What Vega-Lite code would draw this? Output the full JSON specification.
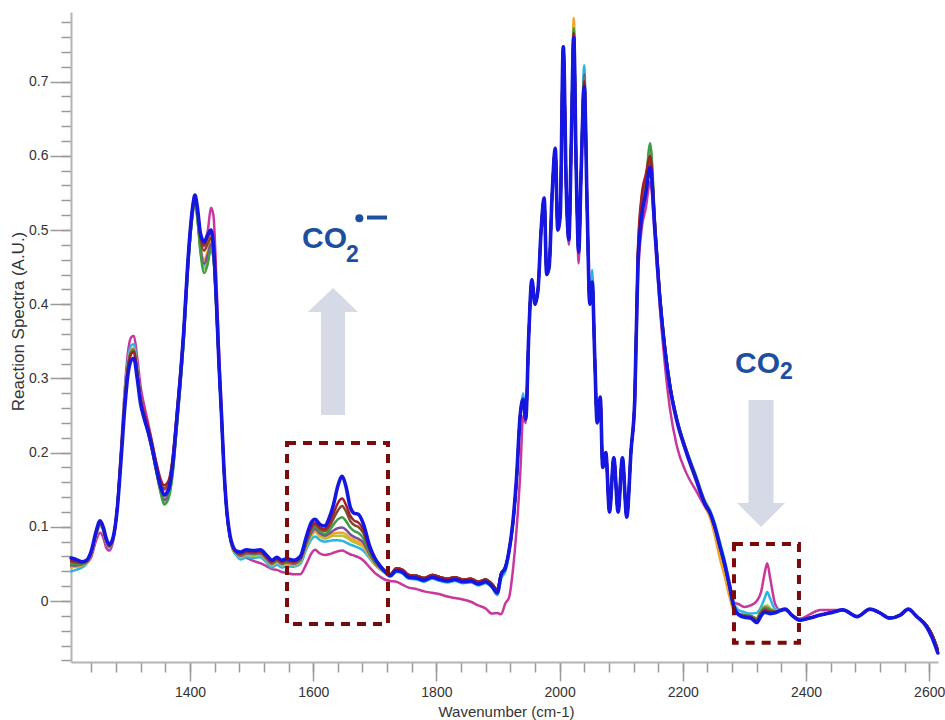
{
"$schema":"https://vega.github.io/schema/vega-lite/v6.json",
"width":867,"height":650,
"autosize":{"type":"none"},
"padding":{"left":71,"top":12,"right":7,"bottom":58},
"background":"#ffffff",
"config":{"view":{"stroke":null},"font":"Liberation Sans"},
"datasets":{
"spectra":[
{"w":1207,"m":0.047,"c":0.040,"yg":0.046,"o":0.045,"p":0.048,"g":0.050,"br":0.053,"r":0.055,"b":0.058},
{"w":1215,"m":0.048,"c":0.042,"yg":0.047,"o":0.046,"p":0.048,"g":0.050,"br":0.052,"r":0.054,"b":0.056},
{"w":1224,"m":0.049,"c":0.045,"yg":0.048,"o":0.048,"p":0.049,"g":0.050,"br":0.051,"r":0.052,"b":0.053},
{"w":1232,"m":0.051,"c":0.050,"yg":0.051,"o":0.052,"p":0.052,"g":0.053,"br":0.054,"r":0.054,"b":0.055},
{"w":1240,"m":0.060,"c":0.064,"yg":0.064,"o":0.065,"p":0.065,"g":0.066,"br":0.066,"r":0.067,"b":0.068},
{"w":1247,"m":0.080,"c":0.086,"yg":0.087,"o":0.087,"p":0.088,"g":0.088,"br":0.089,"r":0.090,"b":0.092},
{"w":1254,"m":0.092,"c":0.101,"yg":0.103,"o":0.103,"p":0.104,"g":0.104,"br":0.105,"r":0.106,"b":0.108},
{"w":1259,"m":0.086,"c":0.095,"yg":0.096,"o":0.096,"p":0.097,"g":0.097,"br":0.098,"r":0.099,"b":0.100},
{"w":1264,"m":0.072,"c":0.079,"yg":0.080,"o":0.080,"p":0.081,"g":0.081,"br":0.082,"r":0.083,"b":0.084},
{"w":1269,"m":0.068,"c":0.072,"yg":0.073,"o":0.073,"p":0.073,"g":0.074,"br":0.074,"r":0.075,"b":0.076},
{"w":1275,"m":0.080,"c":0.083,"yg":0.083,"o":0.083,"p":0.083,"g":0.084,"br":0.084,"r":0.085,"b":0.085},
{"w":1282,"m":0.128,"c":0.128,"yg":0.127,"o":0.127,"p":0.127,"g":0.127,"br":0.127,"r":0.127,"b":0.125},
{"w":1288,"m":0.205,"c":0.200,"yg":0.197,"o":0.197,"p":0.196,"g":0.196,"br":0.195,"r":0.195,"b":0.190},
{"w":1294,"m":0.285,"c":0.277,"yg":0.272,"o":0.272,"p":0.270,"g":0.270,"br":0.268,"r":0.268,"b":0.260},
{"w":1300,"m":0.340,"c":0.330,"yg":0.323,"o":0.323,"p":0.321,"g":0.320,"br":0.318,"r":0.318,"b":0.310},
{"w":1305,"m":0.356,"c":0.345,"yg":0.339,"o":0.339,"p":0.337,"g":0.336,"br":0.334,"r":0.334,"b":0.325},
{"w":1309,"m":0.357,"c":0.346,"yg":0.341,"o":0.341,"p":0.339,"g":0.338,"br":0.336,"r":0.336,"b":0.327},
{"w":1314,"m":0.330,"c":0.317,"yg":0.312,"o":0.313,"p":0.311,"g":0.310,"br":0.309,"r":0.310,"b":0.302},
{"w":1320,"m":0.288,"c":0.274,"yg":0.270,"o":0.272,"p":0.270,"g":0.270,"br":0.270,"r":0.272,"b":0.265},
{"w":1326,"m":0.262,"c":0.249,"yg":0.246,"o":0.248,"p":0.246,"g":0.247,"br":0.249,"r":0.252,"b":0.245},
{"w":1332,"m":0.240,"c":0.228,"yg":0.226,"o":0.228,"p":0.227,"g":0.228,"br":0.231,"r":0.235,"b":0.228},
{"w":1338,"m":0.216,"c":0.206,"yg":0.204,"o":0.206,"p":0.205,"g":0.206,"br":0.211,"r":0.215,"b":0.208},
{"w":1345,"m":0.185,"c":0.178,"yg":0.175,"o":0.178,"p":0.176,"g":0.177,"br":0.184,"r":0.188,"b":0.180},
{"w":1352,"m":0.160,"c":0.152,"yg":0.147,"o":0.152,"p":0.150,"g":0.148,"br":0.160,"r":0.165,"b":0.155},
{"w":1358,"m":0.150,"c":0.138,"yg":0.133,"o":0.140,"p":0.136,"g":0.130,"br":0.152,"r":0.156,"b":0.143},
{"w":1365,"m":0.156,"c":0.145,"yg":0.140,"o":0.147,"p":0.143,"g":0.138,"br":0.158,"r":0.162,"b":0.150},
{"w":1372,"m":0.189,"c":0.179,"yg":0.175,"o":0.181,"p":0.177,"g":0.172,"br":0.191,"r":0.195,"b":0.185},
{"w":1378,"m":0.243,"c":0.234,"yg":0.230,"o":0.236,"p":0.232,"g":0.228,"br":0.245,"r":0.248,"b":0.240},
{"w":1384,"m":0.300,"c":0.292,"yg":0.289,"o":0.294,"p":0.290,"g":0.287,"br":0.302,"r":0.305,"b":0.298},
{"w":1390,"m":0.366,"c":0.358,"yg":0.355,"o":0.359,"p":0.356,"g":0.353,"br":0.367,"r":0.370,"b":0.365},
{"w":1396,"m":0.450,"c":0.443,"yg":0.440,"o":0.444,"p":0.441,"g":0.438,"br":0.449,"r":0.452,"b":0.450},
{"w":1401,"m":0.505,"c":0.498,"yg":0.496,"o":0.499,"p":0.497,"g":0.494,"br":0.503,"r":0.506,"b":0.505},
{"w":1405,"m":0.535,"c":0.529,"yg":0.527,"o":0.530,"p":0.528,"g":0.526,"br":0.533,"r":0.535,"b":0.535},
{"w":1408,"m":0.545,"c":0.541,"yg":0.539,"o":0.542,"p":0.540,"g":0.538,"br":0.544,"r":0.546,"b":0.547},
{"w":1412,"m":0.528,"c":0.519,"yg":0.516,"o":0.521,"p":0.518,"g":0.515,"br":0.525,"r":0.528,"b":0.530},
{"w":1417,"m":0.492,"c":0.476,"yg":0.472,"o":0.480,"p":0.476,"g":0.470,"br":0.487,"r":0.492,"b":0.495},
{"w":1423,"m":0.478,"c":0.452,"yg":0.448,"o":0.460,"p":0.455,"g":0.442,"br":0.472,"r":0.480,"b":0.484},
{"w":1429,"m":0.500,"c":0.464,"yg":0.460,"o":0.472,"p":0.467,"g":0.455,"br":0.482,"r":0.490,"b":0.494},
{"w":1434,"m":0.530,"c":0.480,"yg":0.477,"o":0.485,"p":0.481,"g":0.475,"br":0.490,"r":0.497,"b":0.500},
{"w":1438,"m":0.520,"c":0.466,"yg":0.463,"o":0.469,"p":0.466,"g":0.462,"br":0.473,"r":0.478,"b":0.480},
{"w":1443,"m":0.430,"c":0.392,"yg":0.390,"o":0.394,"p":0.392,"g":0.390,"br":0.397,"r":0.400,"b":0.400},
{"w":1447,"m":0.340,"c":0.316,"yg":0.314,"o":0.317,"p":0.316,"g":0.314,"br":0.319,"r":0.321,"b":0.320},
{"w":1451,"m":0.262,"c":0.250,"yg":0.249,"o":0.251,"p":0.250,"g":0.249,"br":0.252,"r":0.253,"b":0.253},
{"w":1455,"m":0.182,"c":0.178,"yg":0.177,"o":0.178,"p":0.178,"g":0.177,"br":0.179,"r":0.180,"b":0.180},
{"w":1460,"m":0.117,"c":0.116,"yg":0.116,"o":0.117,"p":0.117,"g":0.117,"br":0.118,"r":0.119,"b":0.119},
{"w":1465,"m":0.085,"c":0.085,"yg":0.085,"o":0.086,"p":0.086,"g":0.086,"br":0.087,"r":0.087,"b":0.088},
{"w":1470,"m":0.068,"c":0.069,"yg":0.070,"o":0.070,"p":0.071,"g":0.071,"br":0.072,"r":0.072,"b":0.073},
{"w":1476,"m":0.062,"c":0.061,"yg":0.063,"o":0.063,"p":0.064,"g":0.064,"br":0.065,"r":0.066,"b":0.067},
{"w":1482,"m":0.060,"c":0.056,"yg":0.059,"o":0.060,"p":0.061,"g":0.062,"br":0.063,"r":0.064,"b":0.066},
{"w":1492,"m":0.058,"c":0.059,"yg":0.062,"o":0.063,"p":0.064,"g":0.065,"br":0.066,"r":0.067,"b":0.069},
{"w":1503,"m":0.054,"c":0.058,"yg":0.061,"o":0.062,"p":0.063,"g":0.064,"br":0.065,"r":0.066,"b":0.068},
{"w":1514,"m":0.051,"c":0.059,"yg":0.062,"o":0.063,"p":0.064,"g":0.065,"br":0.066,"r":0.067,"b":0.069},
{"w":1524,"m":0.047,"c":0.052,"yg":0.055,"o":0.056,"p":0.057,"g":0.058,"br":0.059,"r":0.060,"b":0.062},
{"w":1533,"m":0.043,"c":0.045,"yg":0.048,"o":0.049,"p":0.050,"g":0.051,"br":0.052,"r":0.053,"b":0.055},
{"w":1541,"m":0.042,"c":0.049,"yg":0.052,"o":0.053,"p":0.054,"g":0.055,"br":0.056,"r":0.057,"b":0.059},
{"w":1549,"m":0.039,"c":0.045,"yg":0.048,"o":0.049,"p":0.050,"g":0.051,"br":0.052,"r":0.053,"b":0.055},
{"w":1557,"m":0.038,"c":0.047,"yg":0.050,"o":0.051,"p":0.052,"g":0.053,"br":0.054,"r":0.055,"b":0.057},
{"w":1568,"m":0.036,"c":0.046,"yg":0.048,"o":0.049,"p":0.050,"g":0.051,"br":0.052,"r":0.053,"b":0.055},
{"w":1579,"m":0.036,"c":0.050,"yg":0.053,"o":0.054,"p":0.055,"g":0.056,"br":0.057,"r":0.058,"b":0.060},
{"w":1589,"m":0.050,"c":0.070,"yg":0.074,"o":0.075,"p":0.077,"g":0.079,"br":0.081,"r":0.083,"b":0.087},
{"w":1597,"m":0.064,"c":0.083,"yg":0.088,"o":0.090,"p":0.092,"g":0.095,"br":0.098,"r":0.100,"b":0.106},
{"w":1603,"m":0.069,"c":0.087,"yg":0.093,"o":0.095,"p":0.097,"g":0.100,"br":0.103,"r":0.105,"b":0.110},
{"w":1611,"m":0.064,"c":0.082,"yg":0.087,"o":0.089,"p":0.091,"g":0.094,"br":0.097,"r":0.099,"b":0.103},
{"w":1619,"m":0.062,"c":0.080,"yg":0.084,"o":0.086,"p":0.088,"g":0.090,"br":0.094,"r":0.097,"b":0.101},
{"w":1626,"m":0.063,"c":0.081,"yg":0.086,"o":0.088,"p":0.091,"g":0.095,"br":0.100,"r":0.105,"b":0.112},
{"w":1633,"m":0.065,"c":0.082,"yg":0.088,"o":0.091,"p":0.095,"g":0.103,"br":0.111,"r":0.118,"b":0.130},
{"w":1640,"m":0.067,"c":0.082,"yg":0.088,"o":0.092,"p":0.098,"g":0.110,"br":0.122,"r":0.132,"b":0.155},
{"w":1647,"m":0.068,"c":0.081,"yg":0.088,"o":0.092,"p":0.099,"g":0.113,"br":0.128,"r":0.138,"b":0.168},
{"w":1653,"m":0.066,"c":0.079,"yg":0.086,"o":0.090,"p":0.096,"g":0.108,"br":0.121,"r":0.130,"b":0.155},
{"w":1660,"m":0.063,"c":0.076,"yg":0.082,"o":0.085,"p":0.090,"g":0.099,"br":0.108,"r":0.115,"b":0.127},
{"w":1667,"m":0.061,"c":0.074,"yg":0.079,"o":0.082,"p":0.086,"g":0.094,"br":0.102,"r":0.108,"b":0.118},
{"w":1673,"m":0.059,"c":0.072,"yg":0.077,"o":0.080,"p":0.084,"g":0.092,"br":0.100,"r":0.106,"b":0.117},
{"w":1681,"m":0.055,"c":0.068,"yg":0.073,"o":0.075,"p":0.079,"g":0.085,"br":0.092,"r":0.097,"b":0.105},
{"w":1692,"m":0.045,"c":0.057,"yg":0.059,"o":0.060,"p":0.062,"g":0.064,"br":0.068,"r":0.070,"b":0.073},
{"w":1700,"m":0.038,"c":0.049,"yg":0.050,"o":0.051,"p":0.052,"g":0.053,"br":0.055,"r":0.056,"b":0.058},
{"w":1708,"m":0.033,"c":0.043,"yg":0.044,"o":0.045,"p":0.045,"g":0.046,"br":0.047,"r":0.048,"b":0.048},
{"w":1716,"m":0.029,"c":0.038,"yg":0.039,"o":0.039,"p":0.040,"g":0.040,"br":0.041,"r":0.041,"b":0.040},
{"w":1725,"m":0.027,"c":0.033,"yg":0.034,"o":0.035,"p":0.035,"g":0.035,"br":0.036,"r":0.036,"b":0.034},
{"w":1735,"m":0.026,"c":0.039,"yg":0.044,"o":0.044,"p":0.044,"g":0.044,"br":0.044,"r":0.044,"b":0.041},
{"w":1745,"m":0.022,"c":0.037,"yg":0.042,"o":0.042,"p":0.042,"g":0.042,"br":0.042,"r":0.042,"b":0.039},
{"w":1755,"m":0.018,"c":0.030,"yg":0.035,"o":0.035,"p":0.035,"g":0.035,"br":0.035,"r":0.035,"b":0.032},
{"w":1768,"m":0.016,"c":0.029,"yg":0.034,"o":0.034,"p":0.034,"g":0.034,"br":0.034,"r":0.034,"b":0.031},
{"w":1780,"m":0.013,"c":0.026,"yg":0.031,"o":0.031,"p":0.031,"g":0.031,"br":0.031,"r":0.031,"b":0.028},
{"w":1793,"m":0.011,"c":0.030,"yg":0.035,"o":0.035,"p":0.035,"g":0.035,"br":0.035,"r":0.035,"b":0.032},
{"w":1806,"m":0.009,"c":0.027,"yg":0.032,"o":0.032,"p":0.032,"g":0.032,"br":0.032,"r":0.032,"b":0.029},
{"w":1818,"m":0.006,"c":0.025,"yg":0.030,"o":0.030,"p":0.030,"g":0.030,"br":0.030,"r":0.030,"b":0.027},
{"w":1830,"m":0.004,"c":0.027,"yg":0.032,"o":0.032,"p":0.032,"g":0.032,"br":0.032,"r":0.032,"b":0.029},
{"w":1843,"m":0.002,"c":0.024,"yg":0.029,"o":0.029,"p":0.029,"g":0.029,"br":0.029,"r":0.029,"b":0.026},
{"w":1856,"m":-0.001,"c":0.025,"yg":0.030,"o":0.030,"p":0.030,"g":0.030,"br":0.030,"r":0.030,"b":0.027},
{"w":1868,"m":-0.006,"c":0.021,"yg":0.026,"o":0.026,"p":0.026,"g":0.026,"br":0.026,"r":0.026,"b":0.023},
{"w":1880,"m":-0.010,"c":0.024,"yg":0.029,"o":0.029,"p":0.029,"g":0.029,"br":0.029,"r":0.029,"b":0.026},
{"w":1890,"m":-0.017,"c":0.018,"yg":0.023,"o":0.023,"p":0.023,"g":0.023,"br":0.023,"r":0.023,"b":0.020},
{"w":1899,"m":-0.016,"c":0.008,"yg":0.015,"o":0.015,"p":0.015,"g":0.015,"br":0.015,"r":0.015,"b":0.011},
{"w":1905,"m":-0.018,"c":0.030,"yg":0.037,"o":0.037,"p":0.037,"g":0.037,"br":0.037,"r":0.037,"b":0.035},
{"w":1912,"m":-0.003,"c":0.040,"yg":0.046,"o":0.046,"p":0.046,"g":0.046,"br":0.046,"r":0.046,"b":0.045},
{"w":1918,"m":0.005,"c":0.064,"yg":0.068,"o":0.068,"p":0.068,"g":0.068,"br":0.068,"r":0.068,"b":0.068},
{"w":1924,"m":0.040,"c":0.100,"yg":0.103,"o":0.103,"p":0.103,"g":0.103,"br":0.103,"r":0.103,"b":0.105},
{"w":1930,"m":0.095,"c":0.160,"yg":0.162,"o":0.162,"p":0.162,"g":0.162,"br":0.162,"r":0.162,"b":0.165},
{"w":1936,"m":0.170,"c":0.250,"yg":0.250,"o":0.250,"p":0.250,"g":0.250,"br":0.250,"r":0.250,"b":0.250},
{"w":1941,"m":0.250,"c":0.280,"yg":0.272,"o":0.272,"p":0.272,"g":0.272,"br":0.272,"r":0.272,"b":0.272},
{"w":1945,"m":0.240,"c":0.245,"yg":0.245,"o":0.245,"p":0.245,"g":0.245,"br":0.245,"r":0.245,"b":0.245},
{"w":1950,"m":0.360,"c":0.360,"yg":0.360,"o":0.360,"p":0.360,"g":0.360,"br":0.360,"r":0.360,"b":0.360},
{"w":1955,"m":0.433,"c":0.433,"yg":0.433,"o":0.433,"p":0.433,"g":0.433,"br":0.433,"r":0.433,"b":0.433},
{"w":1960,"m":0.400,"c":0.400,"yg":0.400,"o":0.400,"p":0.400,"g":0.400,"br":0.400,"r":0.400,"b":0.400},
{"w":1965,"m":0.420,"c":0.420,"yg":0.420,"o":0.420,"p":0.420,"g":0.420,"br":0.420,"r":0.420,"b":0.420},
{"w":1970,"m":0.500,"c":0.500,"yg":0.500,"o":0.500,"p":0.500,"g":0.500,"br":0.500,"r":0.500,"b":0.500},
{"w":1975,"m":0.543,"c":0.543,"yg":0.543,"o":0.543,"p":0.543,"g":0.543,"br":0.543,"r":0.543,"b":0.543},
{"w":1979,"m":0.440,"c":0.440,"yg":0.440,"o":0.440,"p":0.440,"g":0.440,"br":0.440,"r":0.440,"b":0.440},
{"w":1983,"m":0.450,"c":0.450,"yg":0.450,"o":0.450,"p":0.450,"g":0.450,"br":0.450,"r":0.450,"b":0.450},
{"w":1988,"m":0.550,"c":0.550,"yg":0.550,"o":0.550,"p":0.550,"g":0.550,"br":0.550,"r":0.550,"b":0.550},
{"w":1993,"m":0.610,"c":0.610,"yg":0.610,"o":0.610,"p":0.610,"g":0.610,"br":0.610,"r":0.610,"b":0.610},
{"w":1997,"m":0.500,"c":0.500,"yg":0.500,"o":0.500,"p":0.500,"g":0.500,"br":0.500,"r":0.500,"b":0.500},
{"w":2001,"m":0.520,"c":0.520,"yg":0.520,"o":0.520,"p":0.520,"g":0.520,"br":0.520,"r":0.520,"b":0.520},
{"w":2006,"m":0.747,"c":0.747,"yg":0.747,"o":0.747,"p":0.747,"g":0.747,"br":0.747,"r":0.747,"b":0.747},
{"w":2011,"m":0.550,"c":0.550,"yg":0.550,"o":0.550,"p":0.550,"g":0.550,"br":0.550,"r":0.550,"b":0.550},
{"w":2015,"m":0.480,"c":0.487,"yg":0.487,"o":0.487,"p":0.487,"g":0.487,"br":0.487,"r":0.487,"b":0.487},
{"w":2019,"m":0.620,"c":0.620,"yg":0.620,"o":0.620,"p":0.620,"g":0.620,"br":0.620,"r":0.620,"b":0.620},
{"w":2023,"m":0.760,"c":0.762,"yg":0.778,"o":0.786,"p":0.768,"g":0.772,"br":0.765,"r":0.765,"b":0.759},
{"w":2027,"m":0.580,"c":0.580,"yg":0.580,"o":0.580,"p":0.580,"g":0.580,"br":0.580,"r":0.580,"b":0.580},
{"w":2031,"m":0.455,"c":0.470,"yg":0.470,"o":0.470,"p":0.470,"g":0.470,"br":0.470,"r":0.470,"b":0.470},
{"w":2035,"m":0.580,"c":0.580,"yg":0.580,"o":0.580,"p":0.580,"g":0.580,"br":0.580,"r":0.580,"b":0.580},
{"w":2040,"m":0.695,"c":0.722,"yg":0.700,"o":0.700,"p":0.710,"g":0.705,"br":0.700,"r":0.700,"b":0.693},
{"w":2045,"m":0.520,"c":0.520,"yg":0.520,"o":0.520,"p":0.520,"g":0.520,"br":0.520,"r":0.520,"b":0.520},
{"w":2049,"m":0.400,"c":0.400,"yg":0.400,"o":0.400,"p":0.400,"g":0.400,"br":0.400,"r":0.400,"b":0.400},
{"w":2053,"m":0.430,"c":0.446,"yg":0.430,"o":0.430,"p":0.430,"g":0.430,"br":0.430,"r":0.430,"b":0.430},
{"w":2057,"m":0.330,"c":0.330,"yg":0.330,"o":0.330,"p":0.330,"g":0.330,"br":0.330,"r":0.330,"b":0.330},
{"w":2061,"m":0.240,"c":0.240,"yg":0.240,"o":0.240,"p":0.240,"g":0.240,"br":0.240,"r":0.240,"b":0.240},
{"w":2066,"m":0.275,"c":0.275,"yg":0.275,"o":0.275,"p":0.275,"g":0.275,"br":0.275,"r":0.275,"b":0.275},
{"w":2070,"m":0.180,"c":0.180,"yg":0.180,"o":0.180,"p":0.180,"g":0.180,"br":0.180,"r":0.180,"b":0.180},
{"w":2075,"m":0.200,"c":0.200,"yg":0.200,"o":0.200,"p":0.200,"g":0.200,"br":0.200,"r":0.200,"b":0.200},
{"w":2081,"m":0.120,"c":0.120,"yg":0.120,"o":0.120,"p":0.120,"g":0.120,"br":0.120,"r":0.120,"b":0.120},
{"w":2088,"m":0.193,"c":0.193,"yg":0.193,"o":0.193,"p":0.193,"g":0.193,"br":0.193,"r":0.193,"b":0.193},
{"w":2095,"m":0.120,"c":0.120,"yg":0.120,"o":0.120,"p":0.120,"g":0.120,"br":0.120,"r":0.120,"b":0.120},
{"w":2102,"m":0.193,"c":0.193,"yg":0.193,"o":0.193,"p":0.193,"g":0.193,"br":0.193,"r":0.193,"b":0.193},
{"w":2109,"m":0.113,"c":0.113,"yg":0.113,"o":0.113,"p":0.113,"g":0.113,"br":0.113,"r":0.113,"b":0.113},
{"w":2116,"m":0.203,"c":0.203,"yg":0.203,"o":0.203,"p":0.203,"g":0.203,"br":0.203,"r":0.203,"b":0.203},
{"w":2122,"m":0.260,"c":0.271,"yg":0.271,"o":0.271,"p":0.271,"g":0.271,"br":0.271,"r":0.271,"b":0.271},
{"w":2127,"m":0.430,"c":0.455,"yg":0.455,"o":0.455,"p":0.455,"g":0.460,"br":0.465,"r":0.470,"b":0.450},
{"w":2133,"m":0.500,"c":0.520,"yg":0.525,"o":0.525,"p":0.525,"g":0.530,"br":0.540,"r":0.545,"b":0.517},
{"w":2140,"m":0.530,"c":0.555,"yg":0.562,"o":0.560,"p":0.560,"g":0.565,"br":0.570,"r":0.575,"b":0.550},
{"w":2147,"m":0.565,"c":0.590,"yg":0.612,"o":0.605,"p":0.595,"g":0.617,"br":0.598,"r":0.600,"b":0.585},
{"w":2155,"m":0.488,"c":0.498,"yg":0.505,"o":0.500,"p":0.500,"g":0.510,"br":0.503,"r":0.505,"b":0.496},
{"w":2163,"m":0.393,"c":0.408,"yg":0.410,"o":0.400,"p":0.408,"g":0.412,"br":0.410,"r":0.410,"b":0.405},
{"w":2171,"m":0.318,"c":0.342,"yg":0.340,"o":0.335,"p":0.340,"g":0.343,"br":0.342,"r":0.342,"b":0.338},
{"w":2179,"m":0.260,"c":0.293,"yg":0.290,"o":0.286,"p":0.290,"g":0.293,"br":0.292,"r":0.292,"b":0.289},
{"w":2190,"m":0.210,"c":0.248,"yg":0.245,"o":0.242,"p":0.245,"g":0.247,"br":0.246,"r":0.246,"b":0.244},
{"w":2206,"m":0.172,"c":0.204,"yg":0.201,"o":0.198,"p":0.201,"g":0.203,"br":0.202,"r":0.202,"b":0.200},
{"w":2222,"m":0.148,"c":0.168,"yg":0.163,"o":0.160,"p":0.164,"g":0.166,"br":0.165,"r":0.165,"b":0.163},
{"w":2236,"m":0.127,"c":0.135,"yg":0.130,"o":0.127,"p":0.131,"g":0.133,"br":0.132,"r":0.132,"b":0.130},
{"w":2244,"m":0.116,"c":0.123,"yg":0.117,"o":0.113,"p":0.119,"g":0.120,"br":0.120,"r":0.120,"b":0.119},
{"w":2252,"m":0.098,"c":0.105,"yg":0.093,"o":0.088,"p":0.099,"g":0.098,"br":0.100,"r":0.100,"b":0.100},
{"w":2260,"m":0.074,"c":0.080,"yg":0.064,"o":0.058,"p":0.073,"g":0.072,"br":0.074,"r":0.075,"b":0.075},
{"w":2268,"m":0.050,"c":0.055,"yg":0.038,"o":0.033,"p":0.048,"g":0.047,"br":0.049,"r":0.050,"b":0.050},
{"w":2276,"m":0.022,"c":0.025,"yg":0.010,"o":0.005,"p":0.018,"g":0.017,"br":0.019,"r":0.020,"b":0.020},
{"w":2283,"m":-0.002,"c":-0.003,"yg":-0.012,"o":-0.014,"p":-0.009,"g":-0.010,"br":-0.009,"r":-0.008,"b":-0.008},
{"w":2290,"m":-0.004,"c":-0.012,"yg":-0.017,"o":-0.018,"p":-0.017,"g":-0.017,"br":-0.018,"r":-0.018,"b":-0.018},
{"w":2300,"m":-0.008,"c":-0.015,"yg":-0.019,"o":-0.020,"p":-0.019,"g":-0.019,"br":-0.020,"r":-0.021,"b":-0.022},
{"w":2310,"m":-0.006,"c":-0.017,"yg":-0.020,"o":-0.021,"p":-0.020,"g":-0.020,"br":-0.021,"r":-0.022,"b":-0.023},
{"w":2320,"m":0.000,"c":-0.016,"yg":-0.023,"o":-0.025,"p":-0.024,"g":-0.024,"br":-0.026,"r":-0.027,"b":-0.029},
{"w":2327,"m":0.012,"c":-0.008,"yg":-0.012,"o":-0.014,"p":-0.014,"g":-0.014,"br":-0.016,"r":-0.018,"b":-0.020},
{"w":2333,"m":0.038,"c":0.004,"yg":-0.007,"o":-0.009,"p":-0.009,"g":-0.009,"br":-0.011,"r":-0.013,"b":-0.015},
{"w":2337,"m":0.051,"c":0.012,"yg":-0.006,"o":-0.009,"p":-0.010,"g":-0.009,"br":-0.012,"r":-0.014,"b":-0.016},
{"w":2342,"m":0.030,"c":0.003,"yg":-0.010,"o":-0.012,"p":-0.012,"g":-0.012,"br":-0.014,"r":-0.015,"b":-0.017},
{"w":2350,"m":-0.004,"c":-0.011,"yg":-0.013,"o":-0.014,"p":-0.014,"g":-0.014,"br":-0.014,"r":-0.015,"b":-0.016},
{"w":2358,"m":-0.012,"c":-0.012,"yg":-0.012,"o":-0.013,"p":-0.013,"g":-0.013,"br":-0.013,"r":-0.013,"b":-0.013},
{"w":2366,"m":-0.012,"c":-0.011,"yg":-0.011,"o":-0.011,"p":-0.011,"g":-0.011,"br":-0.011,"r":-0.011,"b":-0.011},
{"w":2378,"m":-0.019,"c":-0.020,"yg":-0.020,"o":-0.020,"p":-0.020,"g":-0.020,"br":-0.020,"r":-0.020,"b":-0.020},
{"w":2390,"m":-0.024,"c":-0.026,"yg":-0.026,"o":-0.026,"p":-0.026,"g":-0.026,"br":-0.026,"r":-0.026,"b":-0.026},
{"w":2406,"m":-0.018,"c":-0.023,"yg":-0.023,"o":-0.023,"p":-0.023,"g":-0.023,"br":-0.023,"r":-0.023,"b":-0.023},
{"w":2423,"m":-0.012,"c":-0.019,"yg":-0.019,"o":-0.019,"p":-0.019,"g":-0.019,"br":-0.019,"r":-0.019,"b":-0.019},
{"w":2444,"m":-0.012,"c":-0.015,"yg":-0.015,"o":-0.015,"p":-0.015,"g":-0.015,"br":-0.015,"r":-0.015,"b":-0.015},
{"w":2460,"m":-0.012,"c":-0.012,"yg":-0.012,"o":-0.012,"p":-0.012,"g":-0.012,"br":-0.012,"r":-0.012,"b":-0.012},
{"w":2483,"m":-0.021,"c":-0.021,"yg":-0.021,"o":-0.021,"p":-0.021,"g":-0.021,"br":-0.021,"r":-0.021,"b":-0.021},
{"w":2504,"m":-0.011,"c":-0.011,"yg":-0.011,"o":-0.011,"p":-0.011,"g":-0.011,"br":-0.011,"r":-0.011,"b":-0.011},
{"w":2520,"m":-0.016,"c":-0.016,"yg":-0.016,"o":-0.016,"p":-0.016,"g":-0.016,"br":-0.016,"r":-0.016,"b":-0.016},
{"w":2536,"m":-0.023,"c":-0.023,"yg":-0.023,"o":-0.023,"p":-0.023,"g":-0.023,"br":-0.023,"r":-0.023,"b":-0.023},
{"w":2553,"m":-0.019,"c":-0.019,"yg":-0.019,"o":-0.019,"p":-0.019,"g":-0.019,"br":-0.019,"r":-0.019,"b":-0.019},
{"w":2566,"m":-0.011,"c":-0.011,"yg":-0.011,"o":-0.011,"p":-0.011,"g":-0.011,"br":-0.011,"r":-0.011,"b":-0.011},
{"w":2580,"m":-0.021,"c":-0.021,"yg":-0.021,"o":-0.021,"p":-0.021,"g":-0.021,"br":-0.021,"r":-0.021,"b":-0.021},
{"w":2596,"m":-0.033,"c":-0.033,"yg":-0.033,"o":-0.033,"p":-0.033,"g":-0.033,"br":-0.033,"r":-0.033,"b":-0.035},
{"w":2605,"m":-0.046,"c":-0.046,"yg":-0.046,"o":-0.046,"p":-0.046,"g":-0.046,"br":-0.046,"r":-0.046,"b":-0.050},
{"w":2614,"m":-0.066,"c":-0.066,"yg":-0.066,"o":-0.066,"p":-0.066,"g":-0.066,"br":-0.066,"r":-0.066,"b":-0.070}
],
"boxes":[{"x1":1557.5,"x2":1721.4,"y1":-0.031,"y2":0.213},{"x1":2283.1,"x2":2388.6,"y1":-0.0562,"y2":0.0768}],
"co":[{"w":1581.8,"v":0.4757,"t":"CO"},{"w":2284.8,"v":0.3069,"t":"CO"}],
"sub":[{"w":1653.2,"v":0.4569,"t":"2"},{"w":2357.8,"v":0.2988,"t":"2"}]
},
"resolve":{"axis":{"x":"independent","y":"independent"}},
"layer":[
{"data":{"name":"spectra"},
 "transform":[{"fold":["m","c","yg","o","p","g","br","r"],"as":["s","v"]}],
 "mark":{"type":"line","interpolate":"monotone","strokeWidth":2.5,"strokeCap":"round","strokeJoin":"round"},
 "encoding":{
  "x":{"field":"w","type":"quantitative","scale":{"domain":[1206.8,2614.3],"nice":false,"zero":false},
   "axis":{"orient":"bottom","values":[1240,1280,1320,1360,1400,1440,1480,1520,1560,1600,1640,1680,1720,1760,1800,1840,1880,1920,1960,2000,2040,2080,2120,2160,2200,2240,2280,2320,2360,2400,2440,2480,2520,2560,2600],"tickSize":10,"tickWidth":1.5,"tickColor":"#9a9a9a","domain":false,"labels":false,"title":null,"grid":false}},
  "y":{"field":"v","type":"quantitative","scale":{"domain":[-0.0822,0.7938],"nice":false,"zero":false},
   "axis":{"orient":"left","values":[-0.08,-0.06,-0.04,-0.02,0,0.02,0.04,0.06,0.08,0.1,0.12,0.14,0.16,0.18,0.2,0.22,0.24,0.26,0.28,0.3,0.32,0.34,0.36,0.38,0.4,0.42,0.44,0.46,0.48,0.5,0.52,0.54,0.56,0.58,0.6,0.62,0.64,0.66,0.68,0.7,0.72,0.74,0.76,0.78],"tickSize":10,"tickWidth":1.5,"tickColor":"#9a9a9a","domain":false,"labels":false,"title":null,"grid":false}},
  "color":{"field":"s","type":"nominal","scale":{"domain":["m","c","yg","o","p","g","br","r"],"range":["#c8379b","#2ab4e6","#b3c434","#f4a62a","#7b4da0","#3e9b47","#7f4b28","#a31f24"]},"legend":null}
 }},
{"data":{"name":"spectra"},
 "mark":{"type":"line","interpolate":"monotone","strokeWidth":3.6,"color":"#1616e2","strokeCap":"round","strokeJoin":"round"},
 "encoding":{
  "x":{"field":"w","type":"quantitative","scale":{"domain":[1206.8,2614.3],"nice":false,"zero":false},
   "axis":{"orient":"bottom","values":[1400,1600,1800,2000,2200,2400,2600],"format":"d","tickSize":19,"tickWidth":1.5,"tickColor":"#9a9a9a","domainColor":"#b4b4b4","domainWidth":2,"labelFontSize":14,"labelColor":"#333333","labelPadding":4,"labelFlush":false,"grid":false,"title":"Wavenumber (cm-1)","titleFontSize":15,"titleFontWeight":"normal","titleColor":"#333333","titleAlign":"center","titleBaseline":"alphabetic","titleX":435,"titleY":54}},
  "y":{"field":"b","type":"quantitative","scale":{"domain":[-0.0822,0.7938],"nice":false,"zero":false},
   "axis":{"orient":"left","values":[0,0.1,0.2,0.3,0.4,0.5,0.6,0.7],"format":"~g","tickSize":21,"tickWidth":1.5,"tickColor":"#9a9a9a","domainColor":"#b4b4b4","domainWidth":2,"labelFontSize":14,"labelColor":"#333333","labelPadding":2,"labelFlush":false,"grid":false,"title":"Reaction Spectra (A.U.)","titleFontSize":17,"titleFontWeight":"normal","titleColor":"#333333","titleAngle":-90,"titleAlign":"center","titleBaseline":"middle","titleX":-53,"titleY":309}}
 }},
{"data":{"values":[{"w":1632.1,"v":0.3363}]},
 "mark":{"type":"point","shape":"M -0.189 1 L 0.189 1 L 0.189 -0.622 L 0.394 -0.622 L 0 -1 L -0.394 -0.622 L -0.189 -0.622 Z","size":16129,"filled":true,"color":"#d5dae6","opacity":1,"strokeWidth":0},
 "encoding":{"x":{"field":"w","type":"quantitative","axis":null},"y":{"field":"v","type":"quantitative","axis":null}}},
{"data":{"values":[{"w":2327.0,"v":0.1853}]},
 "mark":{"type":"point","shape":"M -0.197 -1 L 0.197 -1 L 0.197 0.622 L 0.378 0.622 L 0 1 L -0.378 0.622 L -0.197 0.622 Z","size":16129,"filled":true,"color":"#d5dae6","opacity":1,"strokeWidth":0},
 "encoding":{"x":{"field":"w","type":"quantitative","axis":null},"y":{"field":"v","type":"quantitative","axis":null}}},
{"data":{"name":"boxes"},
 "mark":{"type":"rect","fillOpacity":0,"stroke":"#7c0a0a","strokeWidth":4,"strokeDash":[9,7]},
 "encoding":{"x":{"field":"x1","type":"quantitative","axis":null},"x2":{"field":"x2"},"y":{"field":"y1","type":"quantitative","axis":null},"y2":{"field":"y2"}}},
{"data":{"name":"co"},
 "mark":{"type":"text","font":"Liberation Sans","fontSize":30,"fontWeight":"bold","color":"#1d4fa0","align":"left","baseline":"alphabetic"},
 "encoding":{"x":{"field":"w","type":"quantitative","axis":null},"y":{"field":"v","type":"quantitative","axis":null},"text":{"field":"t"}}},
{"data":{"name":"sub"},
 "mark":{"type":"text","font":"Liberation Sans","fontSize":23,"fontWeight":"bold","color":"#1d4fa0","align":"left","baseline":"alphabetic"},
 "encoding":{"x":{"field":"w","type":"quantitative","axis":null},"y":{"field":"v","type":"quantitative","axis":null},"text":{"field":"t"}}},
{"data":{"values":[{"w":1674.9,"v":0.5158}]},
 "mark":{"type":"point","shape":"circle","size":64,"filled":true,"color":"#1d4fa0","opacity":1},
 "encoding":{"x":{"field":"w","type":"quantitative","axis":null},"y":{"field":"v","type":"quantitative","axis":null}}},
{"data":{"values":[{"w":1687.3,"w2":1719.8,"v":0.5168}]},
 "mark":{"type":"rule","color":"#1d4fa0","strokeWidth":4},
 "encoding":{"x":{"field":"w","type":"quantitative","axis":null},"x2":{"field":"w2"},"y":{"field":"v","type":"quantitative","axis":null}}}
]
}
